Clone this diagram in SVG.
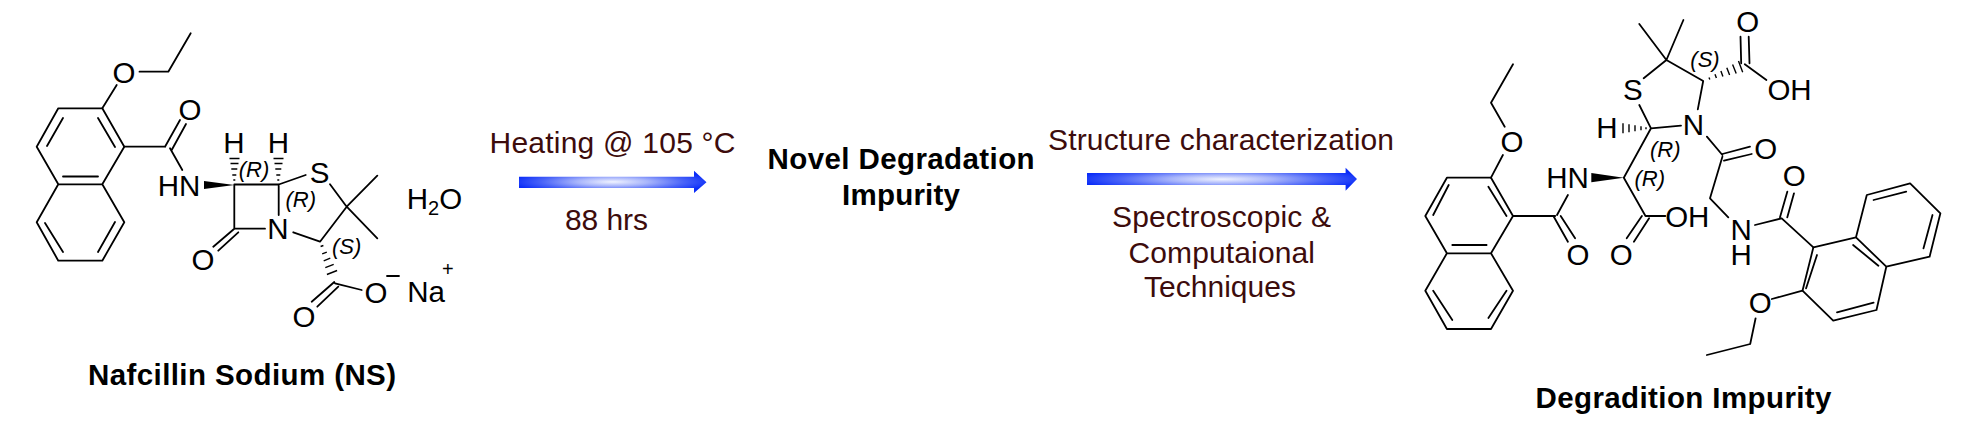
<svg xmlns="http://www.w3.org/2000/svg" width="1966" height="442" viewBox="0 0 1966 442">
<style>
text{font-family:"Liberation Sans",Arial,sans-serif;fill:#000}
.a{font-size:29.5px;text-anchor:middle}
.s{font-size:20px}
.r{font-size:22px;font-style:italic;text-anchor:middle}
.l{font-weight:bold;font-size:29.5px}
.c{font-size:30px;fill:#3d0c0c}
.b{stroke:#000;stroke-width:1.8;fill:none;stroke-linecap:round;stroke-linejoin:round}
.h{stroke:#000;stroke-width:1.4;fill:none}
</style>
<defs>
<radialGradient id="g" cx=".5" cy=".5" r=".54">
<stop offset="0" stop-color="#f0f3ff"/>
<stop offset=".35" stop-color="#a8b5fb"/>
<stop offset=".7" stop-color="#4a64f8"/>
<stop offset="1" stop-color="#0a2cf8"/>
</radialGradient>
</defs>
<rect width="1966" height="442" fill="#fff"/>
<g id="nafcillin-sodium">
<path class="b" d="M58.3 108.3H102.3L124.3 146.7L102.3 184.3H58.3L36.7 146.7ZM102.3 184.3L124.3 222.3L102.3 260.7H58.3L36.7 222.3L58.3 184.3M63 118L47 146M98 118L115 147M63 176.5H98M115 222L98 252M45 223L63 252"/>
<path class="b" d="M102.3 108.3L116.7 85M139.5 71.7H168.3L190.7 33.3M124.3 146.7H165M165 146.7L180 120M171.7 150L186 124M170 148.3L182.3 170"/>
<polygon points="204,181 204,189 234.3,185"/>
<path class="b" d="M234.3 184.5H278.7V215M234.3 184.5V228.7H265M234.3 228.7L213.3 246.7M238.3 232.3L218.3 250.7M278.7 184.5L305.7 175M330 184.3L346.7 206.7M346.7 206.7L377.3 175.7M346.7 206.7L377.3 238.3M346.7 206.7L320 241.7L293.3 232.3"/>
<path class="h" d="M229.5 158.5H239.5M230.5 163.5H238.5M231.3 169H237.3M232.3 175H236.3M233.3 180H235.3M273.5 158.5H283.5M274.5 163.5H282.5M275.3 169H281.3M276.3 175H280.3M277.3 180H279.3"/>
<path class="h" d="M320.6 246.5L323.4 245.5M322.2 253.9L326.8 252.1M323.7 260.8L330.3 258.2M325.3 267.6L333.7 264.4M326.9 274.5L337.1 270.5"/>
<path class="b" d="M334.3 282L311.7 301.7M338.3 286.7L317.3 306.7M335 283.3L361.7 290M387 276H399"/>
<text class="a" x="124" y="82.5">O</text>
<text class="a" x="190" y="119.5">O</text>
<text class="a" x="234" y="152.7">H</text>
<text class="a" x="278.5" y="152.7">H</text>
<text class="a" x="179" y="196">HN</text>
<text class="a" x="319.5" y="182.5">S</text>
<text class="a" x="278" y="239">N</text>
<text class="a" x="203" y="270">O</text>
<text class="a" x="376" y="303">O</text>
<text class="a" x="304" y="327">O</text>
<text class="a" x="426" y="301.7">Na</text>
<text class="s" x="442" y="276">+</text>
<text class="a" x="434.5" y="209">H<tspan class="s" dy="6">2</tspan><tspan dy="-6">O</tspan></text>
<text class="r" x="254" y="177">(R)</text>
<text class="r" x="300.7" y="207">(R)</text>
<text class="r" x="346.7" y="254">(S)</text>
<text class="l" x="88" y="385" textLength="308">Nafcillin Sodium (NS)</text>
</g>
<g id="connectors">
<polygon fill="url(#g)" points="519,176.7 694,176.7 694,170.7 706.5,182.3 694,193 694,188 519,188"/>
<polygon fill="url(#g)" points="1087,173 1345.6,173 1345.6,167.7 1357,179 1345.6,190.7 1345.6,185 1087,185"/>
</g>
<g id="step-labels">
<text class="c" x="489.5" y="152.7" textLength="246">Heating @ 105 °C</text>
<text class="c" x="565" y="230" textLength="83">88 hrs</text>
<text class="c" x="1048" y="150" textLength="346">Structure characterization</text>
<text class="c" x="1112" y="227" textLength="219">Spectroscopic &amp;</text>
<text class="c" x="1128.5" y="262.7" textLength="186.5">Computaional</text>
<text class="c" x="1144" y="296.7" textLength="152">Techniques</text>
</g>
<g id="novel-degradation-impurity">
<text class="l" x="767.6" y="169" textLength="267">Novel Degradation</text>
<text class="l" x="842" y="205" textLength="118">Impurity</text>
</g>
<g id="degradation-impurity">
<path class="b" d="M1446.9 177.7H1491L1513 216L1491 253.3H1446.9L1425.3 216ZM1491 253.3L1513 290.7L1491 329H1446.9L1425.3 290.7L1446.9 253.3M1448.7 185L1433.2 215M1488.4 186.7L1506.5 216M1452.3 245H1486.6M1506.5 290.7L1488.4 318M1433.2 290.7L1452.3 320"/>
<path class="b" d="M1491 177.7L1502.9 155M1504.7 126.7L1491 102.7L1513 64.3M1513 216H1555.2M1553.4 216L1567.9 241.7M1560.7 216L1575.1 238.3M1557 215L1567.9 195"/>
<polygon points="1591.3,173 1591.3,182.3 1623.8,177.7"/>
<path class="b" d="M1623.8 177.7L1651 128.3M1623.8 177.7L1645.5 216H1665.3M1641.9 216L1626.7 238.3M1649.1 218.3L1633.9 241.7M1651 128.3L1639.3 105M1643.7 78.3L1666.4 60L1639.3 24M1666.4 60L1683.4 20M1666.4 60L1703.2 81L1697.8 109.3M1651 128.3L1681 125.7M1706.9 136.7L1722.4 155M1722.3 154L1750 146.7M1724 160.7L1751.7 154M1722.4 156.7L1710 198.3L1728.3 217.3M1755 225L1781.7 218.3M1780 217.3L1787.3 191.7M1787.3 217.3L1794 193.3M1781.7 218.3L1813.4 247.3"/>
<path class="h" d="M1623 123.3V133.3M1629 124.3V132.3M1635 125.3V131.3M1641 126.3V130.3M1646 127.3V129.3"/>
<path class="h" d="M1709 77.6L1709.8 79.6M1715 74.3L1716.4 78.1M1720.9 71L1722.9 76.6M1726.8 67.7L1729.6 75.1M1732.6 64.4L1736.2 73.6M1738.5 61L1742.7 72.2"/>
<path class="b" d="M1741.2 63.3L1740.5 36.7M1749.5 63.3L1748.7 36.7M1744.8 64.3L1766.4 80"/>
<path class="b" d="M1813.4 247.3L1856 237.3L1886.3 266.7L1876.5 310L1833.2 320.7L1802.5 290.7ZM1856 237.3L1866.8 195L1910.1 183.3L1940.4 213.3L1929.6 256.7L1886.3 266.7M1817 255L1806.1 288.3M1853.1 245L1878.4 265.7M1837 312.3L1873.6 302.7M1873.6 200L1906.2 191.7M1932.5 215L1923.5 248.3"/>
<path class="b" d="M1802.5 290.7L1771.8 299M1755.6 318.3L1750.2 344L1706.9 355"/>
<text class="a" x="1512" y="151.5">O</text>
<text class="a" x="1567.5" y="188">HN</text>
<text class="a" x="1578" y="265">O</text>
<text class="a" x="1621.3" y="265">O</text>
<text class="a" x="1687.3" y="226.7">OH</text>
<text class="a" x="1607" y="137.7">H</text>
<text class="a" x="1632.8" y="100">S</text>
<text class="a" x="1693.5" y="135">N</text>
<text class="a" x="1765.7" y="158.5">O</text>
<text class="a" x="1794.2" y="186">O</text>
<text class="a" x="1741.2" y="240">N</text>
<text class="a" x="1741.2" y="265">H</text>
<text class="a" x="1747.7" y="32.3">O</text>
<text class="a" x="1789.5" y="100">OH</text>
<text class="a" x="1760.3" y="312.7">O</text>
<text class="r" x="1705" y="67">(S)</text>
<text class="r" x="1665.3" y="157">(R)</text>
<text class="r" x="1649.8" y="186">(R)</text>
<text class="l" x="1535.5" y="408" textLength="296">Degradition Impurity</text>
</g>
</svg>
